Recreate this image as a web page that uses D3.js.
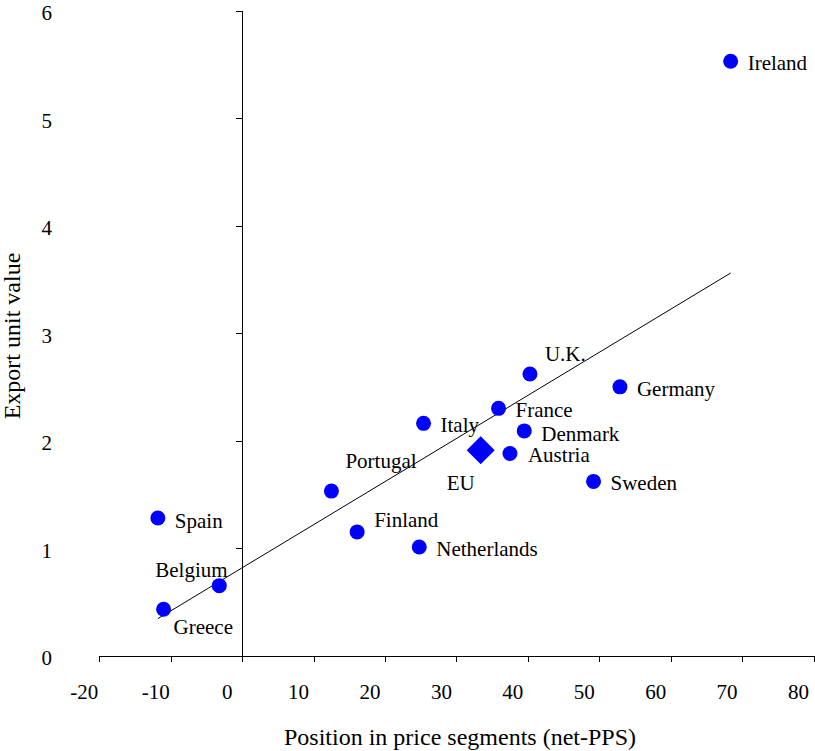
<!DOCTYPE html>
<html>
<head>
<meta charset="utf-8">
<script src="https://cdn.jsdelivr.net/npm/d3@7"></script>
<style>
  html, body { margin: 0; padding: 0; background: #fff; }
  svg { display: block; font-family: "Liberation Serif", "Times New Roman", serif; }
</style>
</head>
<body>
<svg id="chart" width="815" height="751"></svg>
<script>
// Countries: position in price segments (net-PPS) vs export unit value
const countries = ["Ireland", "U.K.", "Germany", "France", "Italy", "Denmark", "Austria",
  "Sweden", "Portugal", "Spain", "Finland", "Netherlands", "Belgium", "Greece"];
const netPPS = [68.4, 40.3, 52.9, 35.9, 25.4, 39.5, 37.5, 49.2, 12.5, -11.8, 16.1, 24.8, -3.2, -11.0];
const unitValue = [5.53, 2.62, 2.50, 2.30, 2.16, 2.09, 1.88, 1.62, 1.53, 1.28, 1.15, 1.01, 0.65, 0.43];

// EU aggregate, drawn as a diamond
const euLabel = "EU";
const euNetPPS = 33.4;
const euUnitValue = 1.91;

// Fitted trend line: unitValue = intercept + slope * netPPS
const trendIntercept = 0.816;
const trendSlope = 0.0401;

const xTicks = [-20, -10, 0, 10, 20, 30, 40, 50, 60, 70, 80];
const yTicks = [0, 1, 2, 3, 4, 5, 6];
const xTitle = "Position in price segments (net-PPS)";
const yTitle = "Export unit value";

// Label placement relative to each marker (text start, baseline)
const labelOffset = {
  "Ireland": [17, 9], "U.K.": [15, -13], "Germany": [17, 9], "France": [17, 9],
  "Italy": [17, 9], "Denmark": [17, 10], "Austria": [18, 9], "Sweden": [17, 9],
  "Portugal": [14, -23], "Spain": [17, 10], "Finland": [17, -5], "Netherlands": [17, 9],
  "Belgium": [-64, -9], "Greece": [10, 25], "EU": [-34, 40]
};

const svg = d3.select("#chart");
const x = d3.scaleLinear().domain([-20, 80]).range([99.3, 813.5]);
const y = d3.scaleLinear().domain([0, 6]).range([655.5, 10.7]);

const ink = "#000";
const dot = "#0000ff";
const plain = d => String(d);   // hyphen-minus for negative ticks

// Horizontal axis at y = 0
const xAxis = svg.append("g")
  .attr("transform", `translate(0,${y(0)})`)
  .call(d3.axisBottom(x).tickValues(xTicks).tickSize(6).tickSizeOuter(0).tickFormat(plain));
xAxis.attr("font-family", null);
xAxis.select(".domain").attr("stroke", ink).attr("shape-rendering", "crispEdges");
xAxis.selectAll(".tick line").attr("stroke", ink).attr("shape-rendering", "crispEdges");
xAxis.selectAll(".tick text")
  .attr("fill", ink).attr("font-size", 21)
  .attr("x", -15.5).attr("y", 43.5).attr("dy", null)
  .attr("text-anchor", "middle");

// Vertical axis at x = 0
const yAxis = svg.append("g")
  .attr("transform", `translate(${x(0)},0)`)
  .call(d3.axisLeft(y).tickValues(yTicks).tickSize(6).tickSizeOuter(0).tickFormat(plain));
yAxis.attr("font-family", null);
yAxis.select(".domain").attr("stroke", ink).attr("shape-rendering", "crispEdges");
yAxis.selectAll(".tick line").attr("stroke", ink).attr("shape-rendering", "crispEdges");
yAxis.selectAll(".tick text")
  .attr("fill", ink).attr("font-size", 21)
  .attr("x", 52 - x(0)).attr("y", 9).attr("dy", null)
  .attr("text-anchor", "end");

// Trend line across the range of the country data
const xr = d3.extent(netPPS);
svg.append("line")
  .attr("x1", x(xr[0])).attr("y1", y(trendIntercept + trendSlope * xr[0]))
  .attr("x2", x(xr[1])).attr("y2", y(trendIntercept + trendSlope * xr[1]))
  .attr("stroke", ink).attr("stroke-width", 1);

// Country markers
const data = countries.map((c, i) => ({ name: c, px: netPPS[i], uv: unitValue[i] }));
svg.append("g").selectAll("circle").data(data).join("circle")
  .attr("cx", d => x(d.px)).attr("cy", d => y(d.uv))
  .attr("r", 7.5).attr("fill", dot);

// EU diamond
svg.append("path")
  .attr("d", d3.symbol(d3.symbolSquare, 392)())
  .attr("transform", `translate(${x(euNetPPS)},${y(euUnitValue)}) rotate(45)`)
  .attr("fill", dot);

// Labels
const labels = data.map(d => ({ name: d.name, px: d.px, uv: d.uv }))
  .concat([{ name: euLabel, px: euNetPPS, uv: euUnitValue }]);
svg.append("g").selectAll("text").data(labels).join("text")
  .attr("x", d => x(d.px) + labelOffset[d.name][0])
  .attr("y", d => y(d.uv) + labelOffset[d.name][1])
  .attr("font-size", 21).attr("fill", ink)
  .text(d => d.name);

// Axis titles
svg.append("text")
  .attr("x", 460).attr("y", 745)
  .attr("text-anchor", "middle").attr("font-size", 24).attr("fill", ink)
  .text(xTitle);
svg.append("text")
  .attr("transform", "translate(20,336) rotate(-90)")
  .attr("text-anchor", "middle").attr("font-size", 24).attr("fill", ink)
  .text(yTitle);
</script>
</body>
</html>
